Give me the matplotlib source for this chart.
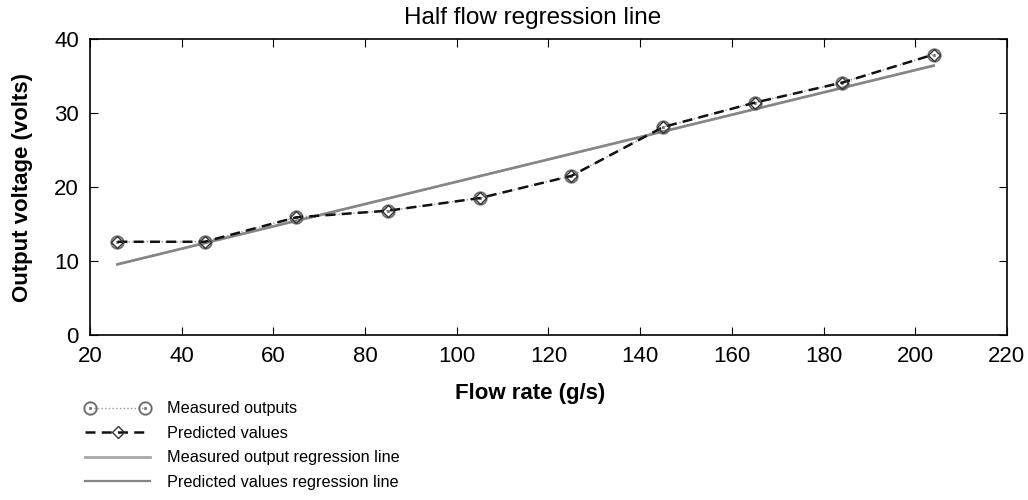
import matplotlib
matplotlib.use("Agg")
import matplotlib.pyplot as plt
from matplotlib.legend_handler import HandlerLine2D
import numpy as np

plt.rcParams['font.family'] = ['Liberation Sans', 'DejaVu Sans']

flow = [26, 45, 65, 85, 105, 125, 145, 165, 184, 204]
measured = [12.6, 12.6, 15.9, 16.8, 18.5, 21.5, 28.1, 31.4, 34.1, 37.9]
predicted = [12.6, 12.6, 15.9, 16.8, 18.5, 21.5, 28.1, 31.4, 34.1, 37.9]
reg_x = [26, 204]
reg_meas = [9.55, 36.4]
reg_pred = [9.55, 36.4]

fig = plt.figure(figsize=(10.28, 5.0), dpi=100)
ax = fig.add_axes([0.0875, 0.33, 0.892, 0.592])

l3, = ax.plot(reg_x, reg_meas, color='#a8a8a8', lw=2.0, label='Measured output regression line')
l4, = ax.plot(reg_x, reg_pred, color='#858585', lw=1.6, label='Predicted values regression line')
l1, = ax.plot(flow, measured, linestyle=':', color='#999999', lw=1.0, marker=r'$\odot$', ms=10,
              mfc='#6a6a6a', mec='#6a6a6a', mew=0.2, label='Measured outputs')
l2, = ax.plot(flow, predicted, linestyle=(0, (4, 2.5)), color='#111111', lw=1.8, marker='D', ms=6,
              mfc='none', mec='#333333', mew=1.0, label='Predicted values')

ax.set_xlim(20, 220)
ax.set_ylim(0, 40)
ax.set_xticks(np.arange(20, 221, 20))
ax.set_yticks(np.arange(0, 41, 10))
ax.tick_params(direction='in', top=True, right=True, length=6, labelsize=16, pad=8)
for s in ax.spines.values():
    s.set_linewidth(1.2)
ax.set_title('Half flow regression line', fontsize=17.5, pad=11, x=0.483)
ax.set_xlabel('Flow rate (g/s)', fontsize=16, fontweight='bold')
ax.set_ylabel('Output voltage (volts)', fontsize=16, fontweight='bold')
ax.xaxis.set_label_coords(0.48, -0.196)
ax.xaxis.label.set_va('center')
ax.yaxis.set_label_coords(-0.074, 0.5)
ax.yaxis.label.set_va('center')

fig.legend(handles=[l1, l2, l3, l4], loc='upper left', bbox_to_anchor=(0.083, 0.197),
           frameon=False, fontsize=11.7, handlelength=4.0, labelspacing=0.58, handletextpad=1.0,
           borderaxespad=0, borderpad=0, numpoints=1,
           handler_map={l1: HandlerLine2D(numpoints=2)})

fig.savefig('out.png', dpi=100)
